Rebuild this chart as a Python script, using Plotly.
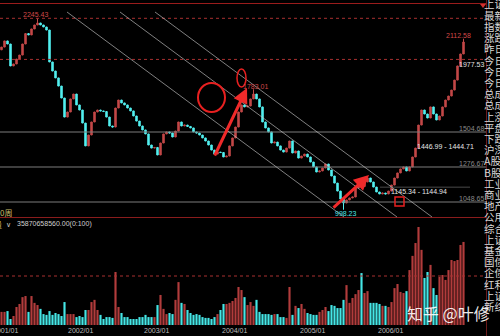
import plotly.graph_objects as go

# ---------------- data (weekly-ish samples, Shanghai Composite 2001-2006) ----------------
closes = [2058, 2098, 2078, 1935, 1948, 1980, 2006, 2078, 2146, 2137,
          2176, 2202, 2215, 2202, 2189, 2169, 1961, 1902, 1857, 1804,
          1726, 1602, 1635, 1720, 1752, 1681, 1648, 1563, 1414, 1485,
          1570, 1635, 1648, 1642, 1638, 1602, 1544, 1537, 1661, 1713,
          1694, 1681, 1661, 1642, 1609, 1576, 1544, 1518, 1492, 1420,
          1400, 1404, 1355, 1433, 1492, 1505, 1498, 1472, 1511, 1570,
          1544, 1550, 1541, 1531, 1505, 1498, 1485, 1466, 1446, 1420,
          1387, 1361, 1374, 1371, 1342, 1348, 1414, 1466, 1537, 1635,
          1681, 1668, 1674, 1720, 1752, 1720, 1668, 1570, 1531, 1505,
          1433, 1439, 1414, 1387, 1374, 1400, 1446, 1368, 1381, 1335,
          1348, 1361, 1342, 1309, 1277, 1244, 1251, 1270, 1296, 1257,
          1218, 1172, 1120, 1068, 1042, 1062, 1075, 1081, 1140, 1153,
          1150, 1179, 1205, 1179, 1146, 1114, 1101, 1107, 1101, 1120,
          1159, 1205, 1238, 1264, 1277, 1251, 1277, 1342, 1400, 1550,
          1648, 1622, 1596, 1668, 1622, 1583, 1609, 1668, 1713, 1739,
          1778, 1843, 1935, 2013, 2091]
first_open = 2040
# labelled extremes: index -> value
high_marks = {12: 2245.43, 84: 1783.01, 154: 2112.58}
low_marks = {114: 998.23}

volumes = [48, 48, 51, 22, 33, 66, 77, 102, 106, 48,
           106, 81, 73, 59, 40, 37, 51, 37, 44, 40,
           33, 84, 40, 40, 40, 29, 33, 29, 55, 55,
           84, 92, 55, 37, 22, 29, 29, 26, 194, 66,
           44, 29, 29, 22, 22, 22, 29, 29, 37, 29,
           29, 29, 73, 110, 59, 40, 44, 40, 92, 157,
           81, 77, 55, 44, 37, 40, 37, 29, 26, 26,
           22, 29, 40, 55, 77, 77, 81, 88, 99, 139,
           128, 102, 73, 84, 70, 92, 48, 40, 40, 40,
           37, 40, 40, 29, 29, 26, 139, 37, 70, 62,
           77, 59, 44, 40, 37, 37, 48, 55, 66, 51,
           73, 70, 62, 62, 92, 146, 81, 99, 113, 128,
           190, 117, 124, 81, 81, 81, 77, 70, 70, 66,
           84, 135, 150, 121, 117, 124, 201, 253, 300, 358.7,
           275, 172, 194, 220, 135, 110, 176, 183, 165, 201,
           238, 234, 238, 293, 304]

ref_levels = [1504.68, 1276.67, 1048.65]
ref_labels = ["1504.68", "1276.67", "1048.65"]
gap_levels = [1446.99, 1145.34]
gap_labels = ["1446.99 - 1444.71", "1145.34 - 1144.94"]
last_price = 1977.53
tick_pos = [1.2, 26.2, 51.8, 77.8, 103.8, 129.5]
tick_labels = ["2001/01", "2002/01", "2003/01", "2004/01", "2005/01", "2006/01"]
side_items = ["上证", "最新", "指数", "涨跌", "昨日", "今日", "今日", "今日", "总成", "总成",
              "上涨", "平盘", "下跌", "沪深", "A股", "B股", "工业", "商业", "地产", "公用",
              "综合", "上证", "基金", "国债", "企债", "红利", "上证", "新综"]
vol_text = "35870658560.00(0:100)"

# ---------------- derived OHLC ----------------
idx = list(range(len(closes)))
opens = [first_open] + closes[:-1]
highs = [high_marks.get(i, max(o, c)) for i, (o, c) in enumerate(zip(opens, closes))]
lows = [low_marks.get(i, min(o, c)) for i, (o, c) in enumerate(zip(opens, closes))]

RED = "#c44848"
CYAN = "#52f0f0"
VRED = "#b23c3c"
VCYAN = "#45e6e6"
vcolors = [VRED if c >= o else VCYAN for o, c in zip(opens, closes)]

W, H = 500, 336
def P(px):
    return px / W
def Q(py):
    return 1 - py / H

fig = go.Figure()
fig.add_trace(go.Candlestick(
    x=idx, open=opens, high=highs, low=lows, close=closes,
    increasing=dict(line=dict(color=RED, width=1), fillcolor=RED),
    decreasing=dict(line=dict(color=CYAN, width=1), fillcolor=CYAN),
    whiskerwidth=0, xaxis="x", yaxis="y", hoverinfo="skip", showlegend=False))
fig.add_trace(go.Bar(
    x=idx, y=volumes, marker=dict(color=vcolors, line=dict(width=0)), width=0.72,
    xaxis="x", yaxis="y2", hoverinfo="skip", showlegend=False))

shapes = []
# frame lines
shapes.append(dict(type="line", xref="paper", yref="paper", x0=0, x1=P(486), y0=Q(3.5), y1=Q(3.5),
                   line=dict(color="#9a1c1c", width=1)))
shapes.append(dict(type="line", xref="paper", yref="paper", x0=0, x1=P(486), y0=Q(217.5), y1=Q(217.5),
                   line=dict(color="#8a1c1c", width=1)))
shapes.append(dict(type="line", xref="paper", yref="paper", x0=P(486.5), x1=P(486.5), y0=0, y1=1,
                   line=dict(color="#6a1a1a", width=1)))
shapes.append(dict(type="path", xref="paper", yref="paper",
                   path=f"M {P(480)} {Q(4)} L {P(486)} {Q(4)} L {P(483)} {Q(8)} Z",
                   fillcolor="#d03030", line=dict(width=0)))
# reference levels
for lv in ref_levels:
    shapes.append(dict(type="line", xref="paper", yref="y", x0=0, x1=P(486), y0=lv, y1=lv,
                       line=dict(color="#7d7d7d", width=1)))
# dotted high / last lines
for lv in [high_marks[12], last_price]:
    shapes.append(dict(type="line", xref="paper", yref="y", x0=0, x1=P(486), y0=lv, y1=lv,
                       line=dict(color="#a83030", width=1, dash="dot")))
# gap lines
shapes.append(dict(type="line", xref="paper", yref="y", x0=P(380), x1=P(470), y0=gap_levels[1], y1=gap_levels[1],
                   line=dict(color="#4a4a4a", width=1)))
# volume half line
shapes.append(dict(type="line", xref="paper", yref="y2", x0=0, x1=P(486), y0=max(volumes) / 2, y1=max(volumes) / 2,
                   line=dict(color="#a83030", width=1, dash="dot")))
# trend channel lines (slope in pixels)
for x0 in [67, 120, 155]:
    shapes.append(dict(type="line", xref="paper", yref="paper", x0=P(x0), y0=Q(12),
                       x1=P(x0 + 205 / 0.74), y1=Q(217),
                       line=dict(color="rgba(200,200,200,0.8)", width=0.8)))
# red hand-drawn marks
shapes.append(dict(type="circle", xref="paper", yref="paper", x0=P(198), x1=P(225), y0=Q(83), y1=Q(112),
                   line=dict(color="#e82020", width=2)))
shapes.append(dict(type="circle", xref="paper", yref="paper", x0=P(237), x1=P(246), y0=Q(69), y1=Q(87),
                   line=dict(color="#e82020", width=1.5)))
shapes.append(dict(type="rect", xref="paper", yref="paper", x0=P(395), x1=P(404), y0=Q(197), y1=Q(206),
                   line=dict(color="#e82020", width=1.5)))

NUM = "Liberation Sans, Arial, sans-serif"
CJK = "Noto Sans CJK SC, sans-serif"
ann = []
def T(text, x, y, color, size=7, anchor="center", font=NUM):
    ann.append(dict(text=text, xref="paper", yref="paper", x=P(x), y=Q(y), xanchor=anchor,
                    yanchor="middle", showarrow=False, borderpad=0,
                    font=dict(family=font, size=size, color=color)))

T(f"{high_marks[12]:.2f}", 35, 15, "#d04848")
T(f"{high_marks[84]:.2f}", 255, 87, "#d04848")
T(f"{low_marks[114]:.2f}", 346, 213, "#4ee8e8")
T(f"{high_marks[154]:.2f}", 458, 36, "#d04848")
T(f"{last_price:.2f} -", 490, 64, "#e0e0e0", anchor="right")
for lab, py in zip(ref_labels, [128, 163, 198]):
    T(lab, 485, py, "#8a8a8a", anchor="right")
T(gap_labels[0], 416, 146, "#e6e6e6", anchor="left")
T(gap_labels[1], 390, 191, "#e6e6e6", anchor="left")
for lab, tp in zip(tick_labels, tick_pos):
    T(lab, 1.5 + 3 * tp, 330, "#bdbdbd", anchor="center")
T("0周", -1, 212, "#c8bc6a", size=8, anchor="left", font=CJK)
T("量", -7, 224, "#c8bc6a", size=8, anchor="left", font=CJK)
T("∨", 5, 224, "#c8c8c8", size=7, anchor="left")
T(vol_text, 16, 224, "#d0d0d0", anchor="left")
for k, s in enumerate(side_items):
    T(s, 483, 4 + 11.2 * k, "#d8d8d8", size=10.5, anchor="left", font=CJK)
T("知乎 @叶修", 406, 313, "rgba(255,255,255,0.92)", size=16, anchor="left", font=CJK)

# arrows
ann.append(dict(text="", xref="paper", yref="paper", x=P(247), y=Q(88), ax=-33, ay=69,
                axref="pixel", ayref="pixel", showarrow=True, arrowhead=2, arrowsize=1,
                arrowwidth=3, arrowcolor="#f02a2a"))
ann.append(dict(text="", xref="paper", yref="paper", x=P(369), y=Q(175), ax=-37, ay=34,
                axref="pixel", ayref="pixel", showarrow=True, arrowhead=2, arrowsize=1,
                arrowwidth=3, arrowcolor="#f02a2a"))

fig.update_layout(
    width=W, height=H, margin=dict(l=0, r=0, t=0, b=0),
    paper_bgcolor="#000000", plot_bgcolor="#000000",
    showlegend=False, shapes=shapes, annotations=ann,
    xaxis=dict(domain=[0, 486 / W], range=[-0.5, -0.5 + 486 / 3], showgrid=False, zeroline=False,
               showticklabels=False, showline=False, ticks="", rangeslider=dict(visible=False),
               anchor="y2"),
    yaxis=dict(domain=[Q(217), Q(4)], range=[2364.68 - 6.515 * 217, 2364.68 - 6.515 * 4],
               showgrid=False, zeroline=False, showticklabels=False, showline=False),
    yaxis2=dict(domain=[Q(325), Q(224)], range=[0, 101 * 3.66], showgrid=False, zeroline=False,
                showticklabels=False, showline=False),
    bargap=0.25,
)
fig.write_html("out.html")
